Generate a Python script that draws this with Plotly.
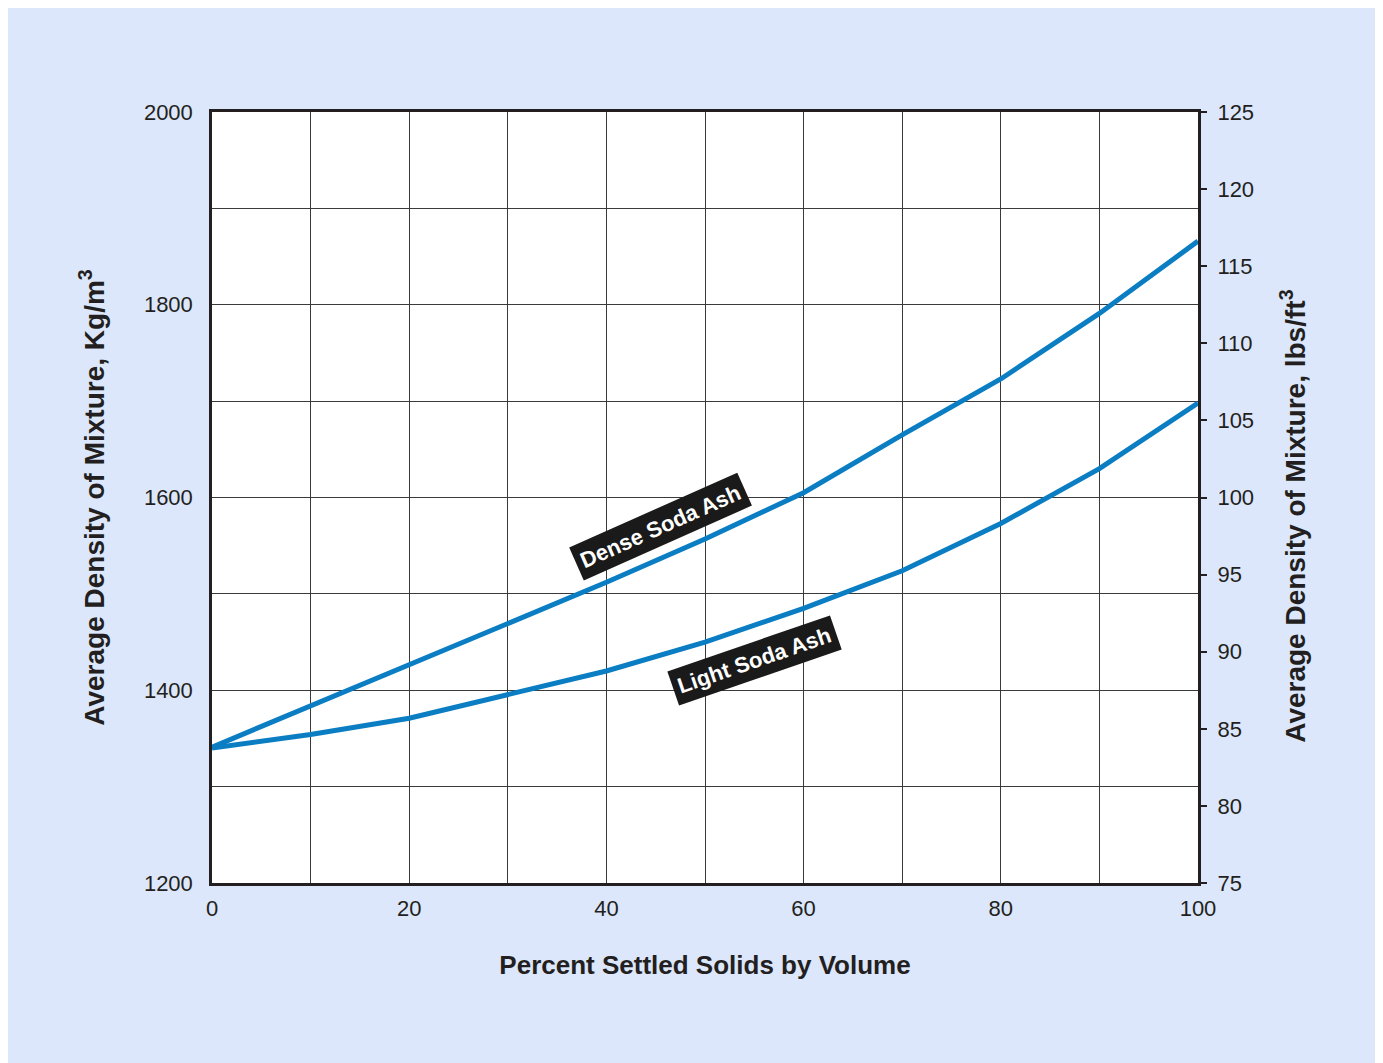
import plotly.graph_objects as go

# Data
pct = [0, 10, 20, 30, 40, 50, 60, 70, 80, 90, 100]
dense = [1341, 1384, 1427, 1470, 1512, 1557, 1605, 1665, 1723, 1791, 1866]
light = [1340, 1354, 1371, 1396, 1420, 1450, 1485, 1524, 1573, 1630, 1698]

y2_ticks = list(range(75, 126, 5))

LINE = "#0a7dc3"
INK = "#231f20"
BG = "#dce7fb"
GRID = "#3a3a3a"
FONT = "Liberation Sans, Arial, sans-serif"

fig = go.Figure()
fig.add_trace(go.Scatter(x=pct, y=dense, mode="lines", line=dict(color=LINE, width=5),
                         showlegend=False, hoverinfo="skip"))
fig.add_trace(go.Scatter(x=pct, y=light, mode="lines", line=dict(color=LINE, width=5),
                         showlegend=False, hoverinfo="skip"))
# dummy trace to activate y2
fig.add_trace(go.Scatter(x=[None], y=[None], yaxis="y2", showlegend=False, hoverinfo="skip"))

fig.add_annotation(x=45.5, y=1570, text="<b>Dense Soda Ash</b>", textangle=-24,
                   showarrow=False, bgcolor="#1a1a1a", font=dict(color="white", size=22, family=FONT),
                   borderpad=5)
fig.add_annotation(x=55, y=1431, text="<b>Light Soda Ash</b>", textangle=-19,
                   showarrow=False, bgcolor="#1a1a1a", font=dict(color="white", size=22, family=FONT),
                   borderpad=5)
# right axis title (placed slightly below centre as in the original)
fig.add_annotation(xref="paper", yref="paper", x=1, y=0.475, xshift=95,
                   xanchor="center", yanchor="middle", textangle=-90, showarrow=False,
                   text="<b>Average Density of Mixture, lbs/ft<sup>3</sup></b>",
                   font=dict(size=28, color=INK, family=FONT))

fig.update_layout(
    width=1383, height=1063,
    paper_bgcolor=BG, plot_bgcolor="white",
    margin=dict(l=204, r=193, t=104, b=188),
    font=dict(family=FONT, color=INK, size=22),
    xaxis=dict(range=[0, 100], dtick=20, showgrid=True,
               gridcolor=GRID, gridwidth=1, zeroline=False, showline=True,
               minor=dict(dtick=10, showgrid=True, gridcolor=GRID, gridwidth=1),
               linecolor=INK, linewidth=2.5, mirror=True, ticks="",
               ticklabelstandoff=4,
               tickfont=dict(size=22, color=INK),
               title=dict(text="<b>Percent Settled Solids by Volume</b>",
                          font=dict(size=26, color=INK), standoff=36)),
    yaxis=dict(range=[1200, 2000], dtick=200, showgrid=True,
               gridcolor=GRID, gridwidth=1, zeroline=False, showline=True,
               minor=dict(dtick=100, showgrid=True, gridcolor=GRID, gridwidth=1),
               linecolor=INK, linewidth=2.5, mirror=True, ticks="",
               ticklabelstandoff=12,
               tickfont=dict(size=22, color=INK),
               title=dict(text="<b>Average Density of Mixture, Kg/m<sup>3</sup></b>",
                          font=dict(size=28, color=INK), standoff=32)),
    yaxis2=dict(range=[75, 125], tickvals=y2_ticks, overlaying="y", side="right",
                anchor="x", showgrid=False, zeroline=False, showline=False,
                ticks="outside", ticklen=8, tickwidth=1.5, tickcolor=INK,
                ticklabelstandoff=6,
                tickfont=dict(size=22, color=INK)),
)

fig.write_html("out.html")
